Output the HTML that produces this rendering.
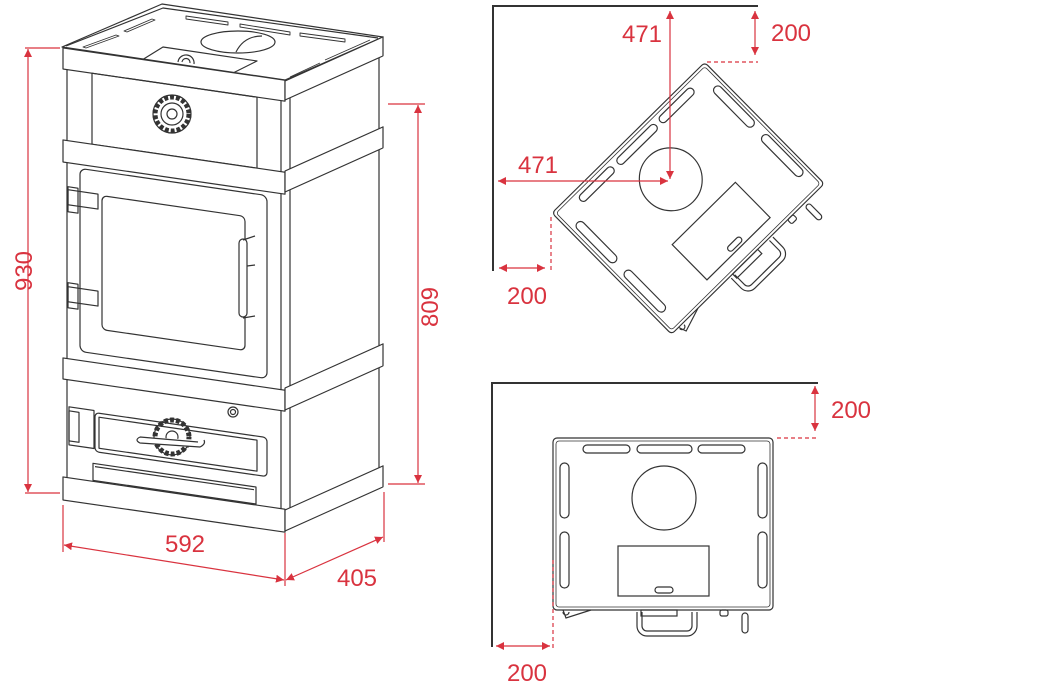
<!DOCTYPE html>
<html><head><meta charset="utf-8"><style>
html,body{margin:0;padding:0;background:#fff;}
svg{display:block;}
text{font-family:"Liberation Sans",Arial,sans-serif;font-size:24px;fill:#d9333f;}
</style></head><body>
<svg width="1060" height="686" viewBox="0 0 1060 686" xmlns="http://www.w3.org/2000/svg">
<defs>
<marker id="ar" viewBox="0 0 10 10" refX="10" refY="5" markerWidth="8" markerHeight="8" orient="auto-start-reverse" markerUnits="userSpaceOnUse">
<path d="M0,0 L10,5 L0,10 z" fill="#d9333f"/></marker>
<g id="plan" fill="none" stroke="#333" stroke-width="1.2">
<rect x="0" y="0" width="220" height="172" rx="4"/>
<rect x="3" y="3" width="214" height="166" rx="3" stroke-width="0.8"/>
<rect x="30" y="7" width="47" height="8" rx="4"/>
<rect x="84" y="7" width="55" height="8" rx="4"/>
<rect x="145" y="7" width="47" height="8" rx="4"/>
<rect x="7" y="25" width="9" height="55" rx="4.5"/>
<rect x="7" y="94" width="9" height="56" rx="4.5"/>
<rect x="205" y="25" width="9" height="55" rx="4.5"/>
<rect x="205" y="94" width="9" height="56" rx="4.5"/>
<circle cx="111" cy="60" r="32"/>
<rect x="65" y="108" width="91" height="50"/>
<rect x="102" y="149" width="18" height="6" rx="3"/>
<path d="M84,174 v14 a10,10 0 0 0 10,10 h40 a10,10 0 0 0 10,-10 v-14 M89,174 v14 a5,5 0 0 0 5,5 h40 a5,5 0 0 0 5,-5 v-14"/>
<rect x="88" y="172" width="36" height="6"/>
<rect x="167" y="172" width="8" height="6" rx="2"/>
<rect x="189" y="175" width="6" height="20" rx="3"/>
<path d="M10,172 l3,8 l25,-8 M10,174 a3,3 0 1 0 6,0"/>
</g>
</defs>

<!-- ===== STOVE ===== -->
<g fill="none" stroke="#333" stroke-width="1.2" stroke-linejoin="round">
<polygon points="62,47 162,4 383,37 285,80" fill="#fff"/>
<polyline points="66,46 163,8 378,38"/>
<ellipse cx="238" cy="42" rx="37" ry="11"/>
<path d="M236,52 q8,-16 26,-16"/>
<polygon points="142,60 163,47 257,61 233,73"/>
<path d="M178,62 a8,8 0 0 1 16,2 M182,62 a4,4 0 0 1 8,1"/>
<g stroke-width="0.9">
<path d="M83,47 l33,-12 l3,1 l-33,12 z"/><path d="M124,31 l28,-12 l3,1 l-28,12 z"/>
<path d="M186,16 l42,6 l0,3 l-42,-6 z"/><path d="M240,24 l50,8 l0,3 l-50,-8 z"/><path d="M300,33 l45,6 l0,3 l-45,-6 z"/>
<path d="M290,77 l30,-14 M325,60 l45,-20"/>
</g>
<g transform="translate(63,0) matrix(1,0.145,0,1,0,0)">
<rect x="0" y="48" width="222" height="21" fill="#fff"/>
<line x1="4" y1="69" x2="4" y2="477"/>
<line x1="218" y1="69" x2="218" y2="477"/>
<rect x="29" y="69" width="165" height="71"/>
<rect x="0" y="140" width="222" height="22" fill="#fff"/>
<rect x="17" y="166" width="187" height="183" rx="6"/>
<rect x="39" y="190" width="143" height="134" rx="5"/>
<rect x="0" y="358" width="222" height="21" fill="#fff"/>
<rect x="32" y="408" width="172" height="39" rx="4"/>
<rect x="36" y="412" width="158" height="31"/>
<rect x="30" y="459" width="163" height="17"/>
<line x1="32" y1="462" x2="191" y2="462"/>
<rect x="0" y="477" width="222" height="23" fill="#fff"/>
<rect x="6" y="406" width="25" height="38"/>
<rect x="6" y="410" width="10" height="30"/>
<rect x="5" y="189" width="30" height="15"/><rect x="5" y="186" width="10" height="25"/>
<rect x="5" y="286" width="30" height="15"/><rect x="5" y="282" width="10" height="25"/>
</g>
<g transform="translate(285,0) matrix(1,-0.45,0,1,0,0)">
<rect x="0" y="81" width="98" height="19" fill="#fff"/>
<line x1="94" y1="100" x2="94" y2="510"/>
<line x1="5" y1="100" x2="5" y2="510"/>
<rect x="0" y="171" width="98" height="21" fill="#fff"/>
<rect x="0" y="388" width="98" height="22" fill="#fff"/>
<rect x="0" y="510" width="98" height="21" fill="#fff"/>
</g>
<path d="M239,243 a4,4 0 0 1 8,0 v70 a4,4 0 0 1 -8,0 z" fill="#fff"/>
<path d="M243,240 l12,-4 M243,318 l12,-2 M247,266 l8,-1"/>
<circle cx="172" cy="114" r="17" stroke-dasharray="4,2" stroke-width="5"/>
<circle cx="172" cy="114" r="19"/><circle cx="172" cy="114" r="11"/><circle cx="172" cy="114" r="5"/>
<circle cx="172" cy="437" r="17" stroke-dasharray="4,2" stroke-width="5"/>
<circle cx="172" cy="437" r="18"/><circle cx="172" cy="437" r="6"/>
<path d="M140,437 q-6,3 0,6 l60,4 q6,-3 4,-7 M140,437 l58,5" fill="#fff"/>
<circle cx="233" cy="412" r="5"/><circle cx="233" cy="412" r="2.5"/>
</g>

<g stroke="#d9333f" stroke-width="1.2" fill="none">
<line x1="25" y1="48" x2="60" y2="48"/><line x1="25" y1="493" x2="60" y2="493"/>
<line x1="28" y1="49" x2="28" y2="492" marker-start="url(#ar)" marker-end="url(#ar)"/>
<line x1="388" y1="104" x2="425" y2="104"/><line x1="388" y1="484" x2="425" y2="484"/>
<line x1="418" y1="105" x2="418" y2="483" marker-start="url(#ar)" marker-end="url(#ar)"/>
<line x1="63" y1="505" x2="63" y2="552"/><line x1="285" y1="533" x2="285" y2="586"/><line x1="384" y1="492" x2="384" y2="542"/>
<line x1="64" y1="545" x2="284" y2="580" marker-start="url(#ar)" marker-end="url(#ar)"/>
<line x1="286" y1="580" x2="383" y2="537" marker-start="url(#ar)" marker-end="url(#ar)"/>
</g>
<text x="24" y="271" text-anchor="middle" transform="rotate(-90 24 271)" dy="8">930</text>
<text x="430" y="307" text-anchor="middle" transform="rotate(-90 430 307)" dy="8">809</text>
<text x="185" y="552" text-anchor="middle">592</text>
<text x="357" y="586" text-anchor="middle">405</text>

<polyline points="758,6 493,6 493,271" fill="none" stroke="#333" stroke-width="2"/>
<use href="#plan" transform="translate(552,213) rotate(-44.6) scale(0.975,0.99)"/>
<g stroke="#d9333f" stroke-width="1.2" fill="none">
<line x1="670" y1="11" x2="670" y2="179" marker-start="url(#ar)" marker-end="url(#ar)"/>
<line x1="498" y1="181" x2="668" y2="181" marker-start="url(#ar)" marker-end="url(#ar)"/>
<line x1="755" y1="11" x2="755" y2="55" marker-start="url(#ar)" marker-end="url(#ar)"/>
<line x1="707" y1="62" x2="758" y2="62" stroke-dasharray="4,3"/>
<line x1="551" y1="217" x2="551" y2="271" stroke-dasharray="4,3"/>
<line x1="499" y1="268" x2="545" y2="268" marker-start="url(#ar)" marker-end="url(#ar)"/>
</g>
<text x="642" y="42" text-anchor="middle">471</text>
<text x="538" y="173" text-anchor="middle">471</text>
<text x="791" y="41" text-anchor="middle">200</text>
<text x="527" y="304" text-anchor="middle">200</text>

<polyline points="818,383 492,383 492,647" fill="none" stroke="#333" stroke-width="2"/>
<use href="#plan" transform="translate(553,438)"/>
<g stroke="#d9333f" stroke-width="1.2" fill="none">
<line x1="815" y1="386" x2="815" y2="431" marker-start="url(#ar)" marker-end="url(#ar)"/>
<line x1="777" y1="438" x2="818" y2="438" stroke-dasharray="4,3"/>
<line x1="553" y1="560" x2="553" y2="648" stroke-dasharray="4,3"/>
<line x1="496" y1="646" x2="550" y2="646" marker-start="url(#ar)" marker-end="url(#ar)"/>
</g>
<text x="851" y="418" text-anchor="middle">200</text>
<text x="527" y="681" text-anchor="middle">200</text>
</svg>
</body></html>
